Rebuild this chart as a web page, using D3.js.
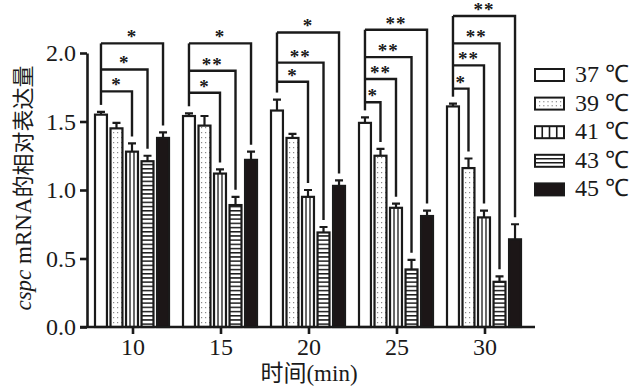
<!DOCTYPE html>
<html>
<head>
	<meta charset="utf-8">
	<title>cspc mRNA</title>
	<script src="https://d3js.org/d3.v7.min.js"></script>
	<style>
		body { margin: 0; background: #fff; }
		text { font-family: "Liberation Serif", "Times New Roman", serif; fill: #1a1a1a; }
	</style>
</head>
<body>
<svg width="631" height="387"></svg>

<script type="text/javascript">
var width = 631, height = 387;
var ink = "#1a1a1a";

// time points (min) and temperature series
var groups = ["10", "15", "20", "25", "30"];
var series = ["37 ℃", "39 ℃", "41 ℃", "43 ℃", "45 ℃"];

// relative expression, one array per temperature
var mean37 = [1.55, 1.54, 1.58, 1.49, 1.61];
var mean39 = [1.45, 1.47, 1.38, 1.25, 1.16];
var mean41 = [1.28, 1.12, 0.95, 0.87, 0.80];
var mean43 = [1.21, 0.89, 0.69, 0.42, 0.33];
var mean45 = [1.38, 1.22, 1.03, 0.81, 0.64];

var err37 = [0.02, 0.02, 0.08, 0.04, 0.02];
var err39 = [0.04, 0.07, 0.03, 0.05, 0.07];
var err41 = [0.06, 0.03, 0.05, 0.03, 0.05];
var err43 = [0.04, 0.06, 0.04, 0.07, 0.04];
var err45 = [0.04, 0.06, 0.04, 0.04, 0.11];

var yTicks = [0, 0.5, 1.0, 1.5, 2.0];

// significance brackets: compare 37 ℃ (index 0) to target series index
var sigTargets = [[2, 3, 4], [2, 3, 4], [2, 3, 4], [1, 2, 3, 4], [1, 2, 3, 4]];
var sigLabels  = [["*", "*", "*"], ["*", "**", "*"], ["*", "**", "*"], ["*", "**", "**", "**"], ["*", "**", "**", "**"]];
var sigLevels  = [[1.72, 1.88, 2.07], [1.71, 1.87, 2.07], [1.79, 1.93, 2.15], [1.64, 1.81, 1.97, 2.17], [1.74, 1.91, 2.07, 2.27]];

var means = [mean37, mean39, mean41, mean43, mean45];
var errs = [err37, err39, err41, err43, err45];

var bars = [];
groups.forEach(function(g, gi) {
	series.forEach(function(s, si) {
		bars.push({group: g, gi: gi, series: s, si: si, value: means[si][gi], err: errs[si][gi]});
	});
});

var svg = d3.select("svg");

var x0 = d3.scaleBand().domain(groups).range([89, 529]);
var x1 = d3.scaleBand().domain(series).range([6, 80]).paddingInner(0.23);
var y = d3.scaleLinear().domain([0, 2]).range([327, 53]);

function barX(d) { return x0(d.group) + x1(d.series); }
function barCx(gi, si) { return x0(groups[gi]) + x1(series[si]) + x1.bandwidth() / 2; }

// patterns
var defs = svg.append("defs");
var dots = defs.append("pattern").attr("id", "dots")
	.attr("patternUnits", "userSpaceOnUse").attr("width", 4).attr("height", 5);
dots.append("rect").attr("width", 4).attr("height", 5).attr("fill", "#fff");
dots.append("rect").attr("x", 1).attr("y", 2).attr("width", 1.2).attr("height", 1.2).attr("fill", "#8a8a8a");

var hstripe = defs.append("pattern").attr("id", "hstripe")
	.attr("patternUnits", "userSpaceOnUse").attr("width", 8).attr("height", 4.2);
hstripe.append("rect").attr("width", 8).attr("height", 4.2).attr("fill", "#fff");
hstripe.append("rect").attr("y", 0).attr("width", 8).attr("height", 1.5).attr("fill", ink);

var fills = ["#fff", "url(#dots)", "#fff", "url(#hstripe)", "#1c1617"];

// bars
svg.append("g").selectAll("rect")
	.data(bars)
	.enter()
	.append("rect")
	.attr("x", barX)
	.attr("y", function(d) { return y(d.value); })
	.attr("width", x1.bandwidth())
	.attr("height", function(d) { return y(0) - y(d.value); })
	.attr("fill", function(d) { return fills[d.si]; })
	.attr("stroke", ink)
	.attr("stroke-width", 2.2);

// vertical stripes for 41 ℃
var stripeBars = bars.filter(function(d) { return d.si === 2; });
svg.append("g").selectAll("path")
	.data(stripeBars)
	.enter()
	.append("path")
	.attr("d", function(d) {
		var w = x1.bandwidth(), bx = barX(d), p = "";
		[1, 2].forEach(function(k) {
			var xx = bx + w * k / 3;
			p += "M" + xx + "," + y(d.value) + "V" + y(0);
		});
		return p;
	})
	.attr("stroke", ink)
	.attr("stroke-width", 1.3);

// error bars
svg.append("g").selectAll("path")
	.data(bars)
	.enter()
	.append("path")
	.attr("d", function(d) {
		var cx = barX(d) + x1.bandwidth() / 2;
		var top = y(d.value + d.err);
		return "M" + cx + "," + y(d.value) + "V" + top + "M" + (cx - 4) + "," + top + "H" + (cx + 4);
	})
	.attr("fill", "none")
	.attr("stroke", ink)
	.attr("stroke-width", 2.2);

// significance brackets
var gap = 7;
var sig = svg.append("g");
groups.forEach(function(g, gi) {
	var left = barCx(gi, 0);
	var leftTop = y(means[0][gi] + errs[0][gi]) - gap;
	var levels = sigLevels[gi];
	sig.append("path")
		.attr("d", "M" + left + "," + leftTop + "V" + y(d3.max(levels)))
		.attr("fill", "none").attr("stroke", ink).attr("stroke-width", 2.4);
	sigTargets[gi].forEach(function(t, k) {
		var right = barCx(gi, t);
		var hy = y(levels[k]);
		var bottom = y(means[t][gi] + errs[t][gi]) - gap;
		sig.append("path")
			.attr("d", "M" + left + "," + hy + "H" + right + "V" + bottom)
			.attr("fill", "none").attr("stroke", ink).attr("stroke-width", 2.4);
		sig.append("text")
			.attr("x", (left + right) / 2)
			.attr("y", hy)
			.attr("text-anchor", "middle")
			.attr("font-size", 19)
			.attr("font-weight", "bold")
			.attr("letter-spacing", 1)
			.text(sigLabels[gi][k]);
	});
});

// y axis
var yAxis = svg.append("g")
	.attr("transform", "translate(87,0)")
	.call(d3.axisLeft(y).tickValues(yTicks).tickFormat(d3.format(".1f")).tickSize(7).tickSizeOuter(0).tickPadding(4));
yAxis.attr("font-family", null);
yAxis.select(".domain").attr("stroke", ink).attr("stroke-width", 2.6);
yAxis.selectAll(".tick line").attr("stroke", ink).attr("stroke-width", 2.6);
yAxis.selectAll(".tick text").attr("font-size", 24).attr("fill", ink);

// x axis
var xAxis = svg.append("g")
	.attr("transform", "translate(0," + y(0) + ")")
	.call(d3.axisBottom(x0).tickSize(7).tickSizeOuter(0).tickPadding(4));
xAxis.attr("font-family", null);
xAxis.select(".domain").remove();
xAxis.append("line").attr("x1", 80).attr("x2", 535).attr("stroke", ink).attr("stroke-width", 2.6);
xAxis.selectAll(".tick line").attr("stroke", ink).attr("stroke-width", 2.6);
xAxis.selectAll(".tick text").attr("font-size", 24).attr("fill", ink);

// axis titles
svg.append("text")
	.attr("x", 309).attr("y", 381)
	.attr("text-anchor", "middle")
	.attr("font-size", 23)
	.html('<tspan font-family="Noto Sans CJK SC">时间</tspan>(min)');

var yt = svg.append("text")
	.attr("transform", "translate(31,188) rotate(-90)")
	.attr("text-anchor", "middle")
	.attr("font-size", 23);
yt.append("tspan").attr("font-style", "italic").text("cspc");
yt.append("tspan").text(" mRNA");
yt.append("tspan").attr("font-family", "Noto Sans CJK SC").attr("font-size", 22).text("的相对表达量");

// legend
var legend = svg.append("g").attr("transform", "translate(535,69)");
var rowStep = 28.6, bw = 29, bh = 12;
var rows = legend.selectAll("g")
	.data(series)
	.enter()
	.append("g")
	.attr("transform", function(d, i) { return "translate(0," + i * rowStep + ")"; });
rows.append("rect")
	.attr("width", bw).attr("height", bh)
	.attr("fill", function(d, i) { return i === 4 ? fills[4] : "#fff"; })
	.attr("stroke", ink).attr("stroke-width", 2);
rows.filter(function(d, i) { return i === 1; })
	.selectAll("circle")
	.data(d3.range(12))
	.enter()
	.append("rect")
	.attr("x", function(k) { return 4 + (k % 6) * 4.2; })
	.attr("y", function(k) { return k < 6 ? 3.5 : 7.5; })
	.attr("width", 1.2).attr("height", 1.2)
	.attr("fill", "#8a8a8a");
rows.filter(function(d, i) { return i === 2; })
	.append("path")
	.attr("d", [1, 2, 3].map(function(k) { return "M" + (bw * k / 4) + ",0V" + bh; }).join(""))
	.attr("stroke", ink).attr("stroke-width", 1.6);
rows.filter(function(d, i) { return i === 3; })
	.append("path")
	.attr("d", [1, 2].map(function(k) { return "M0," + (bh * k / 3) + "H" + bw; }).join(""))
	.attr("stroke", ink).attr("stroke-width", 1.6);
rows.append("text")
	.attr("x", 40).attr("y", 13)
	.attr("font-size", 24)
	.text(function(d) { return d; });
</script>
</body>
</html>
